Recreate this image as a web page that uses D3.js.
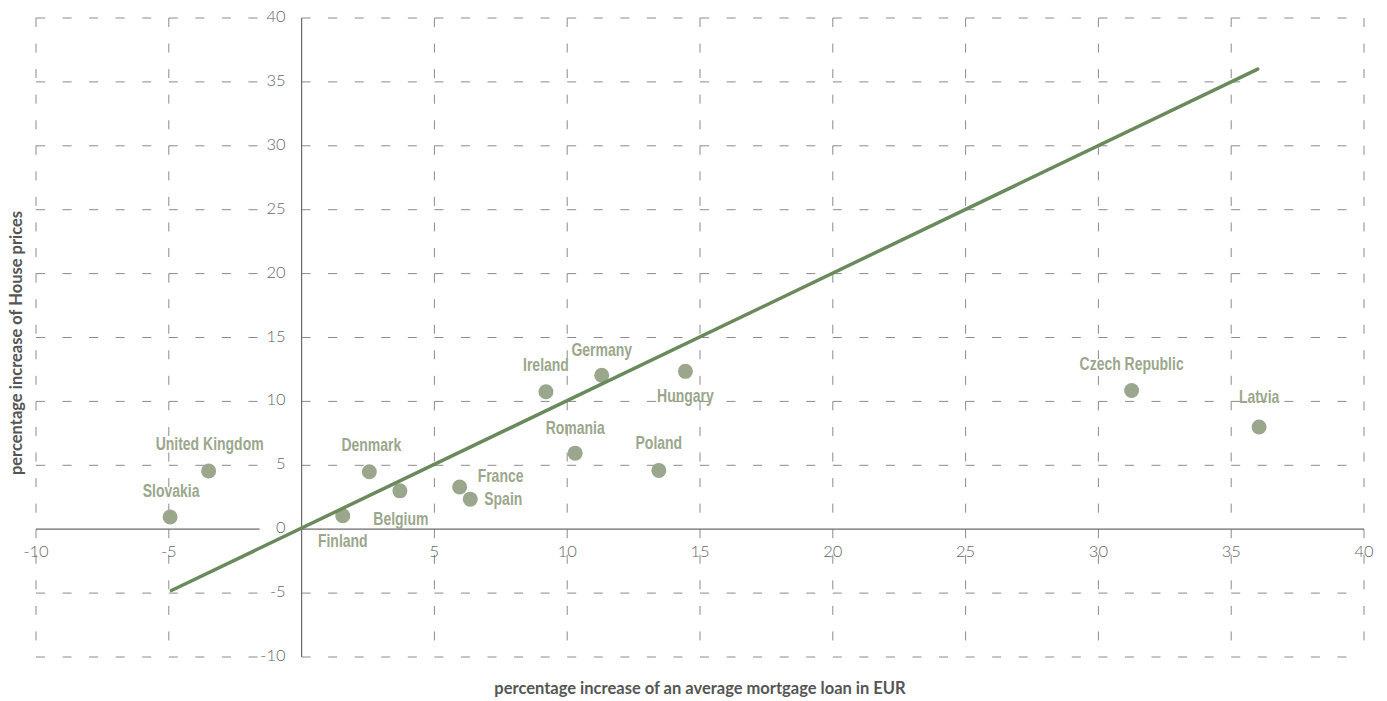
<!DOCTYPE html>
<html>
<head>
<meta charset="utf-8">
<script src="https://cdn.jsdelivr.net/npm/d3@7/dist/d3.min.js"></script>
<style>
  html, body { margin: 0; padding: 0; background: #fff; }
  svg { display: block; }
</style>
</head>
<body>
<svg id="chart" width="1387" height="701"></svg>
<script>
// ---- data ----
const countries = ["Slovakia", "United Kingdom", "Finland", "Denmark", "Belgium", "France", "Spain",
  "Ireland", "Germany", "Romania", "Poland", "Hungary", "Czech Republic", "Latvia"];
const mortgageIncrease = [-4.95, -3.5, 1.55, 2.55, 3.7, 5.95, 6.35, 9.2, 11.3, 10.3, 13.45, 14.45, 31.25, 36.05];
const housePriceIncrease = [0.95, 4.55, 1.05, 4.5, 3.0, 3.3, 2.35, 10.75, 12.05, 5.95, 4.6, 12.35, 10.85, 8.0];
const trendX = [-4.9, 36.0];
const trendY = [-4.8, 36.0];
const xTicks = [-10, -5, 0, 5, 10, 15, 20, 25, 30, 35, 40];
const yTicks = [-10, -5, 0, 5, 10, 15, 20, 25, 30, 35, 40];
const xTitle = "percentage increase of an average mortgage loan in EUR";
const yTitle = "percentage increase of House prices";

// ---- layout ----
const svg = d3.select("#chart");
const x = d3.scaleLinear().domain([-10, 40]).range([36, 1364]);
const y = d3.scaleLinear().domain([-10, 40]).range([657, 18]);

// label placement: [anchor, dx, dy(baseline)]
const labelPos = {
  "Slovakia": ["middle", 1, -20],
  "United Kingdom": ["middle", 1, -21],
  "Finland": ["middle", 0, 31],
  "Denmark": ["middle", 2, -21],
  "Belgium": ["middle", 1, 34],
  "France": ["start", 18, -5],
  "Spain": ["start", 14, 6],
  "Ireland": ["middle", 0, -21],
  "Germany": ["middle", 0, -19],
  "Romania": ["middle", 0, -19],
  "Poland": ["middle", 0, -21],
  "Hungary": ["middle", 0, 31],
  "Czech Republic": ["middle", 0, -21],
  "Latvia": ["middle", 0, -24]
};

const gridColor = "#8a8a8a";
const axisColor = "#6b6b6b";

// grid lines
const g = svg.append("g");
g.selectAll("line.h").data(yTicks.filter(d => d !== 0)).join("line")
  .attr("x1", x(-10)).attr("x2", x(40))
  .attr("y1", d => y(d)).attr("y2", d => y(d))
  .attr("stroke", gridColor).attr("stroke-width", 1)
  .attr("stroke-dasharray", "9,17.56");
g.selectAll("line.v").data(xTicks.filter(d => d !== 0)).join("line")
  .attr("x1", d => x(d)).attr("x2", d => x(d))
  .attr("y1", y(40)).attr("y2", y(-10))
  .attr("stroke", gridColor).attr("stroke-width", 1)
  .attr("stroke-dasharray", "9,16.56");

// zero axes
g.append("line").attr("x1", x(-10)).attr("x2", x(40)).attr("y1", y(0)).attr("y2", y(0))
  .attr("stroke", axisColor).attr("stroke-width", 1.2);
g.append("line").attr("x1", x(0)).attr("x2", x(0)).attr("y1", y(40)).attr("y2", y(-10))
  .attr("stroke", axisColor).attr("stroke-width", 1.2);

// y tick labels with white background
const yl = svg.append("g");
yTicks.forEach(t => {
  yl.append("rect").attr("x", x(0) - 42).attr("y", y(t) - 11).attr("width", 38).attr("height", 18).attr("fill", "#fff");
  yl.append("text").attr("x", x(0) - 16).attr("y", y(t) + 4)
    .attr("text-anchor", "end")
    .attr("font-family", "Lato, 'Open Sans', sans-serif").attr("font-weight", 300)
    .attr("font-size", 16.5).attr("fill", "#666").text(t);
});
// x tick labels
svg.append("g").selectAll("text").data(xTicks.filter(d => d !== 0)).join("text")
  .attr("x", d => x(d)).attr("y", y(0) + 28)
  .attr("text-anchor", "middle")
  .attr("font-family", "Lato, 'Open Sans', sans-serif").attr("font-weight", 300)
  .attr("font-size", 16.5).attr("fill", "#666").text(d => d);

// points
const pts = countries.map((c, i) => ({ name: c, x: mortgageIncrease[i], y: housePriceIncrease[i] }));
svg.append("g").selectAll("circle").data(pts).join("circle")
  .attr("cx", d => x(d.x)).attr("cy", d => y(d.y)).attr("r", 7.5)
  .attr("fill", "#9ba78c");

// labels (condensed look via horizontal scale)
svg.append("g").selectAll("text").data(pts).join("text")
  .attr("transform", d => `translate(${x(d.x) + labelPos[d.name][1]},${y(d.y) + labelPos[d.name][2]}) scale(0.8,1)`)
  .attr("text-anchor", d => labelPos[d.name][0])
  .attr("font-family", "'Liberation Sans', Arial, sans-serif")
  .attr("font-weight", "bold").attr("font-size", 17.5)
  .attr("fill", "#9ba78c").text(d => d.name);

// trend line
const line = d3.line().x(d => x(d[0])).y(d => y(d[1]));
svg.append("path").datum(trendX.map((v, i) => [v, trendY[i]]))
  .attr("d", line).attr("fill", "none")
  .attr("stroke", "#6a8a5c").attr("stroke-width", 3.5).attr("stroke-linecap", "round");

// axis titles
svg.append("text").attr("x", 700).attr("y", 694).attr("text-anchor", "middle")
  .attr("font-family", "Lato, 'Open Sans', sans-serif").attr("font-weight", "bold")
  .attr("font-size", 16.5).attr("fill", "#555").text(xTitle);
svg.append("text").attr("transform", "translate(22,343) rotate(-90)").attr("text-anchor", "middle")
  .attr("font-family", "Lato, 'Open Sans', sans-serif").attr("font-weight", "bold")
  .attr("font-size", 16.5).attr("fill", "#555").text(yTitle);
</script>
</body>
</html>
